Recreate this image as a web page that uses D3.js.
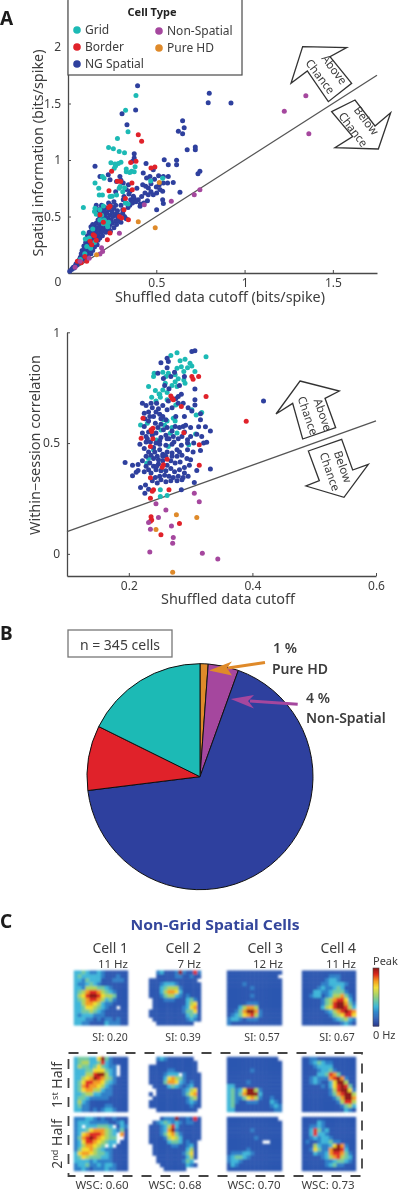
<!DOCTYPE html>
<html><head><meta charset="utf-8">
<script src="https://cdn.jsdelivr.net/npm/d3@7"></script>
<style>
html,body{margin:0;padding:0;background:#fff}
svg{display:block}
text{font-family:"Noto Sans","Open Sans",sans-serif;fill:#3c3c3c}
</style></head><body><svg id="c" width="400" height="1190"></svg>
<script>
const typeNames=["Grid","Border","NG Spatial","Non-Spatial","Pure HD"];
const typeColors=["#1fbab5","#e0202a","#2e3f9e","#a5479e","#df8a2a"];
const pieCounts=[4,15,233,32,61];
const pieOrder=[4,3,2,1,0];
const xTicksA=[0.5,1,1.5], yTicksA=[0.5,1,1.5,2];
const xTicksB=[0.2,0.4,0.6], yTicksB=[0,0.5,1];
const identityA=[0,1.75], identityB=[0.1,0.6];

const gridA=[[.832,1.865],[.385,1.57],[.326,1.44],[.34,1.25],[.28,1.19],[.23,1.11],[.257,1.1],[.29,1.075],[.32,1.065],[.243,.976],[.266,.965],[.285,.97],[.262,.926],[.33,.897],[.35,.89],[.375,.897],[.38,.94],[.153,.797],[.204,.838],[.195,.853],[.174,.75],[.177,.69],[.195,.69],[.238,.676],[.275,.69],[.29,.75],[.295,.765],[.087,.58],[.153,.574],[.15,.544],[.18,.56],[.2,.594],[.468,.815],[.536,.838],[.34,.61],[.21,.456],[.2,.435],[.223,.426],[.18,.47],[.106,.235],[.087,.353],[.128,.22],[.098,.3],[.14,.39],[.12,.31],[.16,.52],[.19,.51],[.23,.45],[.225,.41],[.205,.47],[.25,.68],[.31,.72],[.325,.62],[.33,.92],[.36,.9],[.07,.12],[.095,.17],[.15,.27],[.32,.755],[.27,.95],[.3,.98]];
const borderA=[[.398,1.224],[.417,1.165],[.385,.988],[.355,.979],[.247,.9],[.279,.811],[.298,.81],[.362,.796],[.364,.737],[.232,.729],[.47,.929],[.492,.938],[.238,.59],[.317,.56],[.304,.487],[.342,.472],[.223,.295],[.238,.354],[.143,.339],[.125,.28],[.096,.147],[.053,.103],[.106,.103],[.134,.251],[.181,.516],[.291,.501],[.325,.66],[.2,.45],[.16,.29],[.075,.09],[.15,.33],[.23,.58]];
const ngA=[[.394,1.658],[.383,1.442],[.306,1.41],[.334,1.313],[.8,1.59],[.794,1.507],[.923,1.504],[.649,1.348],[.658,1.286],[.625,1.254],[.649,1.233],[.675,1.091],[.721,1.091],[.721,1.115],[.747,.9],[.736,.879],[.375,1.056],[.375,1.018],[.366,.988],[.153,.944],[.442,.968],[.545,1.003],[.568,.959],[.615,.997],[.615,.959],[.568,.855],[.513,.861],[.54,.855],[.596,.802],[.564,.796],[.54,.796],[.517,.78],[.464,.855],[.445,.84],[.426,.885],[.483,.914],[.634,.714],[.536,.723],[.502,.708],[.483,.693],[.455,.693],[.436,.708],[.417,.678],[.398,.649],[.374,.664],[.355,.649],[.455,.752],[.44,.767],[.423,.78],[.536,.649],[.54,.614],[.502,.56],[.43,.619],[.408,.59],[.37,.649],[.328,.619],[.313,.649],[.181,.855],[.228,.87],[.238,.826],[.313,.796],[.342,.78],[.351,.723],[.317,.678],[.294,.855],[.275,.81],
[.01,.015],[.02,.03],[.025,.04],[.03,.05],[.035,.045],[.04,.06],[.045,.08],[.05,.07],[.055,.1],[.06,.09],[.065,.12],[.07,.11],[.07,.14],[.075,.17],[.08,.13],[.08,.2],[.085,.15],[.09,.12],[.09,.18],[.09,.24],[.095,.22],[.1,.16],[.1,.19],[.1,.27],[.105,.3],[.11,.14],[.11,.21],[.11,.25],[.11,.33],[.115,.18],[.12,.2],[.12,.28],[.12,.31],[.12,.36],[.125,.24],[.13,.17],[.13,.22],[.13,.27],[.13,.34],[.135,.3],[.135,.39],[.14,.2],[.14,.25],[.14,.33],[.14,.37],[.145,.28],[.15,.23],[.15,.3],[.15,.35],[.15,.41],[.155,.27],[.155,.38],[.16,.32],[.16,.36],[.16,.44],[.165,.25],[.165,.4],[.17,.29],[.17,.34],[.17,.47],[.175,.38],[.18,.31],[.18,.42],[.18,.5],[.185,.45],[.19,.36],[.19,.4],[.19,.48],[.195,.33],[.195,.55],[.2,.38],[.2,.43],[.2,.52],[.205,.47],[.21,.41],[.21,.5],[.21,.58],[.215,.36],[.22,.44],[.22,.53],[.225,.49],[.23,.39],[.23,.46],[.23,.56],[.235,.42],[.24,.51],[.24,.6],[.245,.47],[.25,.44],[.25,.54],[.255,.5],[.26,.4],[.26,.57],[.27,.46],[.27,.52],[.275,.43],[.28,.55],[.285,.48],[.29,.51],[.3,.45],[.3,.6],[.31,.53],[.32,.5],[.33,.48],[.27,.6],[.26,.63],[.23,.62],[.19,.6],[.17,.56],[.16,.6],[.13,.41],[.14,.43],[.17,.53],[.185,.57],[.205,.55],[.215,.46],[.22,.4],[.24,.37],[.25,.58],[.28,.5],[.29,.46],[.31,.56],[.34,.58],[.35,.6],[.365,.62],[.385,.63],[.41,.61],[.45,.64],[.47,.72],[.5,.76],[.52,.74],[.49,.83],[.47,.79],[.39,.75],[.37,.68],[.345,.7],[.33,.74],[.3,.82],[.27,.72]];
const nonSpatialA=[[1.347,1.569],[1.225,1.431],[1.364,1.233],[1.742,1.209],[.747,.737],[.715,.693],[.585,.634],[.432,.605],[.291,.351],[.19,.224],[.181,.168],[.068,.103],[.196,.19],[.12,.13],[.04,.05]];
const pureHdA=[[.398,.454],[.494,.401],[.517,.802],[.162,.162]];

const gridB=[[.278,.908],[.268,.895],[.325,.89],[.283,.872],[.291,.878],[.299,.86],[.302,.848],[.307,.823],[.241,.815],[.255,.82],[.278,.838],[.285,.845],[.289,.823],[.264,.815],[.275,.808],[.232,.755],[.259,.77],[.275,.777],[.289,.785],[.291,.77],[.278,.755],[.243,.737],[.249,.722],[.262,.728],[.237,.707],[.251,.707],[.262,.695],[.276,.672],[.302,.65],[.318,.638],[.309,.627],[.219,.582],[.23,.59],[.256,.605],[.272,.612],[.275,.6],[.252,.559],[.267,.544],[.308,.541],[.297,.492],[.245,.514],[.264,.484],[.229,.409],[.251,.289],[.251,.259],[.262,.263],[.25,.72],[.244,.69],[.255,.74],[.27,.76],[.24,.8],[.26,.8],[.28,.79],[.295,.84],[.27,.57],[.258,.58],[.278,.545],[.24,.47],[.232,.43],[.253,.38],[.262,.6]];
const borderB=[[.302,.8],[.304,.788],[.313,.8],[.325,.71],[.39,.598],[.27,.702],[.268,.713],[.272,.695],[.285,.665],[.223,.612],[.236,.56],[.239,.567],[.237,.552],[.22,.522],[.239,.519],[.235,.484],[.289,.547],[.314,.492],[.262,.427],[.256,.402],[.254,.391],[.314,.4],[.235,.344],[.24,.289],[.238,.282],[.265,.289],[.235,.251],[.236,.168],[.237,.153],[.235,.147],[.282,.137],[.252,.086]];
const ngB=[[.194,.412],[.206,.4],[.215,.403],[.206,.352],[.215,.376],[.212,.368],[.219,.3],[.227,.311],[.226,.274],[.232,.292],[.418,.69],[.302,.913],[.307,.917],[.252,.863],[.262,.883],[.264,.868],[.247,.815],[.256,.792],[.268,.8],[.307,.744],[.307,.695],[.307,.672],[.302,.645],[.316,.632],[.316,.605],[.313,.574],[.324,.574],[.332,.555],[.318,.53],[.326,.504],[.321,.5],[.316,.466],[.332,.383],[.31,.376],[.306,.322],[.285,.289],
[.222,.68],[.228,.67],[.232,.64],[.225,.635],[.238,.66],[.244,.64],[.24,.62],[.232,.6],[.225,.575],[.243,.59],[.25,.63],[.255,.62],[.262,.65],[.27,.66],[.28,.71],[.285,.72],[.265,.745],[.258,.76],[.28,.68],[.29,.62],[.288,.575],[.282,.57],[.275,.575],[.27,.555],[.262,.57],[.252,.585],[.247,.57],[.238,.535],[.228,.53],[.222,.545],[.228,.505],[.218,.495],[.225,.475],[.235,.505],[.244,.5],[.252,.525],[.26,.535],[.265,.52],[.272,.53],[.28,.52],[.286,.53],[.295,.515],[.3,.53],[.305,.5],[.295,.47],[.285,.49],[.278,.47],[.27,.495],[.26,.49],[.25,.47],[.242,.46],[.232,.46],[.228,.44],[.222,.42],[.228,.395],[.234,.41],[.24,.43],[.246,.44],[.255,.45],[.262,.46],[.27,.455],[.278,.44],[.286,.445],[.294,.43],[.3,.425],[.283,.415],[.275,.41],[.268,.42],[.262,.4],[.255,.42],[.248,.405],[.24,.395],[.232,.38],[.225,.37],[.236,.365],[.244,.38],[.252,.375],[.26,.375],[.268,.385],[.274,.37],[.282,.38],[.29,.365],[.296,.35],[.288,.345],[.28,.35],[.272,.345],[.265,.35],[.258,.355],[.25,.35],[.243,.345],[.238,.33],[.246,.32],[.252,.335],[.26,.325],[.268,.33],[.278,.33],[.286,.335],[.23,.52],[.244,.545],[.256,.56],[.232,.55],[.24,.48],[.25,.495],[.273,.505],[.29,.55],[.3,.57],[.31,.54],[.292,.58],[.276,.62],[.255,.67],[.245,.68],[.236,.68],[.252,.61],[.26,.605],[.226,.61],[.234,.62],[.248,.655],[.264,.69],[.276,.7],[.288,.68],[.296,.66],[.282,.76],[.274,.82],[.262,.84],[.29,.8],[.255,.44],[.236,.445],[.248,.425],[.26,.44],[.245,.395],[.27,.44],[.282,.46],[.295,.5],[.304,.46],[.298,.4],[.29,.39],[.262,.52],[.25,.51]];
const nonSpatialB=[[.306,.274],[.314,.235],[.244,.226],[.26,.198],[.248,.164],[.232,.141],[.235,.111],[.269,.126],[.272,.074],[.271,.048],[.234,.008],[.319,.003],[.344,-.023]];
const pureHdB=[[.277,.177],[.31,.164],[.244,.11],[.271,-.083]];

const mapCell1=["33432232111111","34333332111211","33243331112221","32234321111111","33255544321111","34578875432111","35689986554111","34578875342111","33577653221111","33466543211.11","33445432111111","32333222111111","33322121221211","33221111322211"];
const mapCell2=["..231112921182","..111112211211","1111111111111.","11123332111111","11134555211111","11135776311111","11124553212111",".1112221113421",".1111111113561",".1111111123671","11111111124461","11111111113431",".1111111112321","..1111111111.."];
const mapCell3=["11111111111111","1111111111111.","11111111111111","11112111111111","11111121111111","11111111111111","11111121111111","11111111111111","11111222111111","11135775111111","11247997211111","12346785211111","23321222111111","21111111111111"];
const mapCell4=["11111111111111","11111112221111","11111123321111","11111223333211","11112322343111","11133223444211","11233123557421","11111245788631","11111245899742","11111356899853","11111123578987","11111112456886","11111111234532","11111111112321"];
const mapHalf1=[
["34443369421111","34553348321111","35443464322.11","33344666432.11","33355899532.11","33567987542111","34688776432111","34787765321111","34677553221111","33455332221111","34432222211111","35321111111111","34221111221111","33221212332111"],
["..2321111111..","..11111111111.","1111111111111.","1111122111111.","11112333.21111","11113675421111","11114776321211",".1111343212311","..111111123561","1.111111124671",".1111111112451","11111111112321","11111111111211","..11111111111."],
["1111111111111.","11111111111111","11111111111111","11111121111111","11111111111111","11111111111111","11111211111111","33111111111111","34236995211111","34247999311111","34224675211211","34211222111321","34111111111232","33111111111122"],
["11221111111111","11234322111111","11123333111111","11112334211111","11113348741111","11232227897211","11232113699511","11111213689841","11111112589962","11111112478995","11111111247997","11111111125885","11111111112453","11111111111321"]];
const mapHalf2=[
["22233212112111","23332222211231","23.3334443.132","23346777543241","23678887543.71","24789876544..1","23688765433.11","23577654.3.111","24667543221111","36776544321111","34654443321111","33332322221111","23342232332111","22321222322111"],
["...12229112181",".1234323212211","11123583111111","11123792111111","11124674211111","11112565311111","1111134431211.",".111112211231.",".111111111351.",".111111112461.","..11111111351.","..1111111243..","...1111111321.","....111111...."],
["1111111111111.","11111111111111","11111111111111","11111121111111","11111111111111","11111112111111","111111111..111","11111111111111","11111211111111","12223321111111","23443211111111","23321111111111","13211111111111","11111111111111"],
["11111111111111","11113211111111","11223211111111","11384231111111","11383321111111","11232332111111","12112334221111","11153223697211","11264227998311","11132237887421","11111235785431","11111122344321","11111123422111","11111111111111"]];
const cellNames=["Cell 1","Cell 2","Cell 3","Cell 4"];
const peakRates=["11 Hz","7 Hz","12 Hz","11 Hz"];
const siLabels=["SI: 0.20","SI: 0.39","SI: 0.57","SI: 0.67"];
const wscLabels=["WSC: 0.60","WSC: 0.68","WSC: 0.70","WSC: 0.73"];
const jetStops=["#29378f","#2b56b0","#2f7fc8","#3fb6d9","#72c9a0","#b0d35a","#f3dc2c","#f49a20","#df2a20","#8c1818"];

const svg=d3.select("#c");
const soft=svg.append("defs");
soft.append("filter").attr("id","mapBlur").attr("x","-5%").attr("y","-5%").attr("width","110%").attr("height","110%")
 .append("feGaussianBlur").attr("stdDeviation",1.3);
soft.append("filter").attr("id","soft").attr("x","-2%").attr("y","-2%").attr("width","104%").attr("height","104%")
 .append("feGaussianBlur").attr("stdDeviation",0.4);
const root=svg.append("g");

const axisCol="#4a4a4a";
function styleAxis(g){
  g.selectAll("path").attr("stroke",axisCol).attr("stroke-width",1.3);
  g.selectAll("line").attr("stroke",axisCol).attr("stroke-width",1);
  g.selectAll("text").attr("font-size",12).attr("fill","#444");
}
function label(x,y,t,o={}){
  const e=root.append("text").attr("x",x).attr("y",y).text(t).attr("font-size",o.size||12)
   .attr("text-anchor",o.anchor||"middle").attr("font-weight",o.weight||400).style("fill",o.fill||"#3c3c3c");
  if(o.rot!=null)e.attr("transform",`rotate(${o.rot} ${x} ${y})`);
  if(o.len)e.attr("textLength",o.len).attr("lengthAdjust","spacingAndGlyphs");
  return e;
}
function dots(g,data,x,y,color,r=2.5){
  g.selectAll(null).data(data).join("circle").attr("cx",d=>x(d[0])).attr("cy",d=>y(d[1])).attr("r",r).attr("fill",color);
}
function poly(pts){
  root.append("path").attr("d",d3.line()(pts)+"Z").attr("fill","#fff").attr("stroke","#333").attr("stroke-width",1.3).attr("stroke-linejoin","miter");
}

/* Panel A */
const xA=d3.scaleLinear().domain([0,1.75]).range([68,377]);
const yA=d3.scaleLinear().domain([0,2.416]).range([273,0]);
let ax=root.append("g").attr("transform","translate(0,273)").call(d3.axisBottom(xA).tickValues(xTicksA).tickFormat(d3.format("~g")).tickSizeInner(-3).tickSizeOuter(0).tickPadding(5));styleAxis(ax);
ax=root.append("g").attr("transform","translate(68,0)").call(d3.axisLeft(yA).tickValues(yTicksA).tickFormat(d3.format("~g")).tickSizeInner(-3).tickSizeOuter(0).tickPadding(7));styleAxis(ax);
label(58,286,"0",{anchor:"middle"});
const lineGen=(x,y)=>d3.line().x(d=>x(d)).y(d=>y(d));
root.append("path").attr("d",lineGen(xA,yA)(identityA)).attr("fill","none").attr("stroke","#555").attr("stroke-width",1.3);
const gA=root.append("g");
dots(gA,ngA,xA,yA,typeColors[2]);dots(gA,gridA,xA,yA,typeColors[0]);dots(gA,borderA,xA,yA,typeColors[1]);dots(gA,nonSpatialA,xA,yA,typeColors[3]);dots(gA,pureHdA,xA,yA,typeColors[4]);
label(220,302,"Shuffled data cutoff (bits/spike)",{size:13.5,len:210});
label(43,153,"Spatial information (bits/spike)",{size:13.5,rot:-90,len:207});

/* legend */
root.append("rect").attr("x",68).attr("y",-2).attr("width",174).attr("height",77).attr("fill","#fff").attr("stroke","#4a4a4a").attr("stroke-width",1.2);
label(152,16,"Cell Type",{size:11,weight:700,fill:"#222"});
const legendPos=[[77,30],[77,47],[77,64],[159,31],[159,48]];
typeNames.forEach((n,i)=>{
  root.append("circle").attr("cx",legendPos[i][0]).attr("cy",legendPos[i][1]).attr("r",3.8).attr("fill",typeColors[i]);
  label(legendPos[i][0]+8,legendPos[i][1]+4,n,{size:12,anchor:"start"});
});

/* Panel A arrows */
const z=(zx,zy,oy=0)=>[zx/3,oy+zy/3];
poly([z(908,140),z(1040,143),z(990,170),z(1055,250),z(985,305),z(922,213),z(873,250)]);
poly([z(995,335),z(1065,300),z(1125,378),z(1172,338),z(1135,447),z(1005,443),z(1058,410)]);
label(331,72,"Above",{size:11.5,rot:53});
label(317,79,"Chance",{size:11.5,rot:53});
label(363,123,"Below",{size:11.5,rot:53});
label(350,132,"Chance",{size:11.5,rot:53});
label(0,25,"A",{size:19,weight:700,anchor:"start",fill:"#1a1a1a"});

/* Panel B scatter */
const xB=d3.scaleLinear().domain([0.1,0.6]).range([67,376]);
const yB=d3.scaleLinear().domain([-0.1,1]).range([576,332.3]);
ax=root.append("g").attr("transform","translate(0,576)").call(d3.axisBottom(xB).tickValues(xTicksB).tickFormat(d3.format(".1f")).tickSizeInner(-3).tickSizeOuter(0).tickPadding(5));styleAxis(ax);
ax=root.append("g").attr("transform","translate(67,0)").call(d3.axisLeft(yB).tickValues(yTicksB).tickFormat(d3.format("~g")).tickSizeInner(-3).tickSizeOuter(0).tickPadding(7));styleAxis(ax);
root.append("path").attr("d",lineGen(xB,yB)(identityB)).attr("fill","none").attr("stroke","#555").attr("stroke-width",1.3);
const gB=root.append("g");
dots(gB,gridB,xB,yB,typeColors[0]);dots(gB,ngB,xB,yB,typeColors[2]);dots(gB,borderB,xB,yB,typeColors[1]);dots(gB,nonSpatialB,xB,yB,typeColors[3]);dots(gB,pureHdB,xB,yB,typeColors[4]);
label(228,604,"Shuffled data cutoff",{size:13.5,len:134});
label(40,445,"Within−session correlation",{size:13.5,rot:-90,len:180});
poly([z(900,183,320),z(1018,213,320),z(975,235,320),z(1007,323,320),z(908,357,320),z(878,250,320),z(828,282,320)]);
poly([z(925,393,320),z(1025,358,320),z(1058,450,320),z(1105,433,320),z(1032,532,320),z(918,498,320),z(958,482,320)]);
label(319,416,"Above",{size:11.5,rot:71});
label(304,417,"Chance",{size:11.5,rot:71});
label(339,468,"Below",{size:11.5,rot:71});
label(326,473,"Chance",{size:11.5,rot:71});

/* Panel B pie */
label(0,640,"B",{size:19,weight:700,anchor:"start",fill:"#1a1a1a"});
root.append("rect").attr("x",68).attr("y",630).attr("width",104).attr("height",27).attr("fill","#fff").attr("stroke","#777").attr("stroke-width",1.3);
label(120,650,"n = 345 cells",{size:14});
const pie=d3.pie().sort(null).value(d=>d.v);
const pieData=pieOrder.map((k,i)=>({v:pieCounts[i],c:typeColors[k]}));
const arc=d3.arc().innerRadius(0).outerRadius(113);
root.append("g").attr("transform","translate(200,776.7)").selectAll("path").data(pie(pieData)).join("path").attr("d",arc).attr("fill",d=>d.data.c).attr("stroke","#111").attr("stroke-width",1);
function callout(a,b,head,col){
  root.append("line").attr("x1",a[0]).attr("y1",a[1]).attr("x2",b[0]).attr("y2",b[1]).attr("stroke",col).attr("stroke-width",3);
  root.append("path").attr("d",d3.line()(head)+"Z").attr("fill",col);
}
callout([265,662.5],[228,668],[[209,670.5],[232,661.5],[227,668],[232,675.5]],typeColors[4]);
callout([297.7,704.3],[250,701],[[230.7,699],[254,695],[248,701],[254,708.5]],typeColors[3]);
label(285,653,"1 %",{size:14,weight:600});
label(272,674,"Pure HD",{size:14,weight:600,anchor:"start"});
label(306,703,"4 %",{size:14,weight:600,anchor:"start"});
label(306,723,"Non-Spatial",{size:14,weight:600,anchor:"start"});

/* Panel C */
label(0,928,"C",{size:19,weight:700,anchor:"start",fill:"#1a1a1a"});
label(215,930,"Non-Grid Spatial Cells",{size:15,weight:700,fill:"#34469c",len:169});
const jet=d3.scaleLinear().domain(d3.range(10)).range(jetStops);
const mapX=[[74,128],[149,201],[227,282],[302,356]];
function drawMap(rows,xr,yr){
  const bx=d3.scaleBand().domain(d3.range(14)).range(xr);
  const by=d3.scaleBand().domain(d3.range(14)).range(yr);
  const cells=[];
  rows.forEach((r,j)=>[...r].forEach((ch,i)=>{if(ch!=="."&&ch!==" ")cells.push({i,j,v:+ch});}));
  root.append("g").attr("filter","url(#mapBlur)").selectAll("rect").data(cells).join("rect")
   .attr("x",d=>bx(d.i)-0.2).attr("y",d=>by(d.j)-0.2).attr("width",bx.bandwidth()+0.4).attr("height",by.bandwidth()+0.4).attr("fill",d=>jet(d.v));
}
const topMaps=[mapCell1,mapCell2,mapCell3,mapCell4];
topMaps.forEach((m,i)=>{
  drawMap(m,mapX[i],[970.7,1025.3]);
  drawMap(mapHalf1[i],mapX[i],[1057,1112]);
  drawMap(mapHalf2[i],mapX[i],[1117,1171]);
});
const cellRight=[128,201,283,356], siCenter=[110,183,262,337], wscCenter=[102,175,254,328];
cellNames.forEach((n,i)=>{
  label(cellRight[i],953,n,{size:14,anchor:"end"});
  label(cellRight[i],968,peakRates[i],{size:11.5,anchor:"end"});
  label(siCenter[i],1041,siLabels[i],{size:10.5});
  label(wscCenter[i],1189,wscLabels[i],{size:11.5});
});
/* colorbar */
const cbY=d3.scaleLinear().domain([0,9]).range([1026,968]);
root.append("g").selectAll("rect").data(d3.range(0,9,0.15)).join("rect").attr("x",373).attr("width",6)
 .attr("y",d=>cbY(d+0.15)).attr("height",d=>cbY(d)-cbY(d+0.15)+0.5).attr("fill",d=>jet(d));
root.append("rect").attr("x",373).attr("y",968).attr("width",6).attr("height",58).attr("fill","none").attr("stroke","#444").attr("stroke-width",0.6);
label(373,965,"Peak",{size:11,anchor:"start"});
label(373,1039,"0 Hz",{size:11,anchor:"start"});
/* dashed box */
root.append("rect").attr("x",68.5).attr("y",1053).attr("width",293.5).attr("height",123).attr("fill","none").attr("stroke","#444").attr("stroke-width",1.8).attr("stroke-dasharray","10 9");
label(62,1085,"1ˢᵗ Half",{size:14,rot:-90});
label(62,1144,"2ⁿᵈ Half",{size:14,rot:-90});
root.attr("filter","url(#soft)");
</script></body></html>
